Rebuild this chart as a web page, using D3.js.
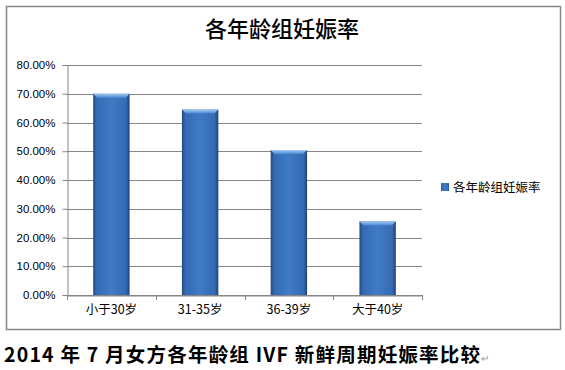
<!DOCTYPE html>
<html>
<head>
<meta charset="utf-8">
<script src="https://cdn.jsdelivr.net/npm/d3@7"></script>
<style>
  body { margin: 0; background: #fff; }
  svg { display: block; }
</style>
</head>
<body>
<svg id="chart" width="565" height="370"></svg>
<script>
// dữ liệu
const categories = ["小于30岁", "31-35岁", "36-39岁", "大于40岁"];
const rates = [0.70, 0.645, 0.504, 0.256];
const yTicks = [0, 0.1, 0.2, 0.3, 0.4, 0.5, 0.6, 0.7, 0.8];
const seriesName = "各年龄组妊娠率";
const chartTitle = "各年龄组妊娠率";
const caption = "2014 年 7 月女方各年龄组 IVF 新鲜周期妊娠率比较";

const svg = d3.select("#chart");
const cjk = "'Noto Sans CJK SC', 'Liberation Sans', sans-serif";

// khung ngoài
svg.append("rect")
  .attr("x", 6.5).attr("y", 6.5)
  .attr("width", 554).attr("height", 323)
  .attr("fill", "#fff")
  .attr("stroke", "#868686")
  .attr("stroke-width", 1.5);

const plot = { left: 67, right: 422, top: 65, bottom: 295 };

const x = d3.scaleBand()
  .domain(categories)
  .range([plot.left, plot.right])
  .paddingInner(0.59)
  .paddingOuter(0.295);

const xb = d3.scaleBand()
  .domain(categories)
  .range([plot.left, plot.right]);

const y = d3.scaleLinear()
  .domain([0, 0.8])
  .range([plot.bottom, plot.top]);

// gradient cột
const defs = svg.append("defs");
const grad = defs.append("linearGradient").attr("id", "barGrad")
  .attr("x1", "0").attr("x2", "1").attr("y1", "0").attr("y2", "0");
grad.append("stop").attr("offset", "0%").attr("stop-color", "#24497f");
grad.append("stop").attr("offset", "10%").attr("stop-color", "#346bb3");
grad.append("stop").attr("offset", "50%").attr("stop-color", "#407bc6");
grad.append("stop").attr("offset", "90%").attr("stop-color", "#346bb3");
grad.append("stop").attr("offset", "100%").attr("stop-color", "#1f4272");

const topGrad = defs.append("linearGradient").attr("id", "topGrad")
  .attr("x1", "0").attr("x2", "0").attr("y1", "0").attr("y2", "1");
topGrad.append("stop").attr("offset", "0%").attr("stop-color", "#a4c9f2");
topGrad.append("stop").attr("offset", "100%").attr("stop-color", "#4a86d0");

// lưới ngang
svg.append("g")
  .selectAll("line")
  .data(yTicks)
  .enter()
  .append("line")
  .attr("x1", plot.left)
  .attr("x2", plot.right)
  .attr("y1", d => Math.round(y(d)) + 0.5)
  .attr("y2", d => Math.round(y(d)) + 0.5)
  .attr("stroke", "#868686")
  .attr("stroke-width", 1);

// trục Y
const yAxis = svg.append("g")
  .attr("transform", `translate(${plot.left + 0.5},0)`)
  .call(d3.axisLeft(y).tickValues(yTicks).tickFormat(d3.format(".2%")).tickSize(5).tickPadding(7));
yAxis.select(".domain").attr("stroke", "#868686");
yAxis.selectAll(".tick line").attr("stroke", "#868686");
yAxis.selectAll("text")
  .style("font-family", "'Liberation Sans', Arial, sans-serif")
  .style("font-size", "11.5px")
  .attr("fill", "#000");

// trục X
const xAxis = svg.append("g")
  .attr("transform", `translate(0,${plot.bottom + 0.5})`)
  .call(d3.axisBottom(xb).tickSize(0).tickPadding(10));
xAxis.select(".domain").attr("stroke", "#868686");
xAxis.selectAll("text")
  .style("font-family", cjk)
  .style("font-size", "12.5px")
  .attr("fill", "#000");

// vạch chia giữa các nhóm
svg.append("g")
  .selectAll("line")
  .data(categories.concat(["end"]))
  .enter()
  .append("line")
  .attr("x1", (d, i) => Math.round(plot.left + i * xb.bandwidth()) + 0.5)
  .attr("x2", (d, i) => Math.round(plot.left + i * xb.bandwidth()) + 0.5)
  .attr("y1", plot.bottom)
  .attr("y2", plot.bottom + 5)
  .attr("stroke", "#868686");

// cột
const bars = svg.append("g")
  .selectAll("g")
  .data(categories)
  .enter()
  .append("g");

bars.append("rect")
  .attr("x", d => x(d))
  .attr("y", (d, i) => y(rates[i]))
  .attr("width", x.bandwidth())
  .attr("height", (d, i) => plot.bottom - y(rates[i]))
  .attr("fill", "url(#barGrad)");

bars.append("path")
  .attr("d", (d, i) => {
    const x0 = x(d), x1 = x0 + x.bandwidth(), t = y(rates[i]);
    return `M${x0},${t}L${x1},${t}L${x1 - 4},${t + 4}L${x0 + 4},${t + 4}Z`;
  })
  .attr("fill", "url(#topGrad)");

// tiêu đề
svg.append("text")
  .attr("x", 282)
  .attr("y", 37)
  .attr("text-anchor", "middle")
  .style("font-family", cjk)
  .style("font-size", "22px")
  .style("font-weight", "500")
  .attr("fill", "#000")
  .text(chartTitle);

// chú giải
svg.append("rect")
  .attr("x", 441).attr("y", 183)
  .attr("width", 8).attr("height", 8)
  .attr("fill", "url(#barGrad)");
svg.append("text")
  .attr("x", 453)
  .attr("y", 191.5)
  .style("font-family", cjk)
  .style("font-size", "12.5px")
  .attr("fill", "#000")
  .text(seriesName);

// chú thích dưới
const cap = svg.append("text")
  .attr("x", 4)
  .attr("y", 362)
  .style("font-family", cjk)
  .style("font-size", "19.5px")
  .style("font-weight", "bold")
  .attr("fill", "#000");
cap.append("tspan")
  .attr("textLength", 476)
  .attr("lengthAdjust", "spacing")
  .text(caption);
cap.append("tspan")
  .style("font-size", "10px")
  .style("font-weight", "normal")
  .attr("fill", "#999")
  .text("↵");
</script>
</body>
</html>
